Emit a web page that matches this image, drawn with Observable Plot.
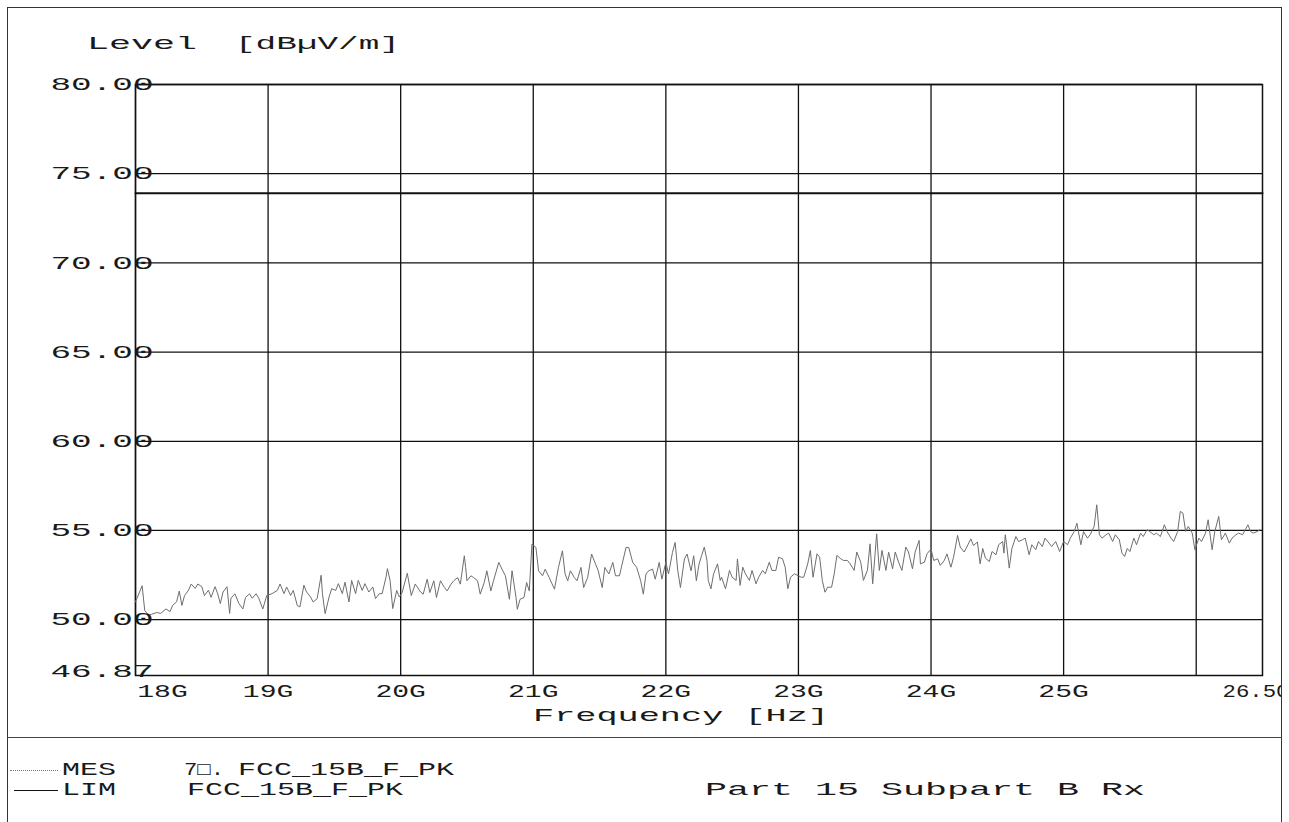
<!DOCTYPE html>
<html><head><meta charset="utf-8">
<script src="https://cdn.jsdelivr.net/npm/d3@7"></script>
<script src="https://cdn.jsdelivr.net/npm/@observablehq/plot@0.6"></script>
<style>
body{margin:0;background:#fff;width:1289px;height:822px;overflow:hidden;position:relative;font-family:"Liberation Mono",monospace;color:#111}
#frame{position:absolute;left:7px;top:7px;width:1275px;height:900px;border:1.5px solid #333;box-sizing:border-box}
#divider{position:absolute;left:7px;top:737px;width:1275px;border-top:1.5px solid #444}
#chart{position:absolute;left:0;top:0;width:1281px;height:740px;overflow:hidden}
.t{position:absolute;white-space:pre;transform-origin:0 50%;color:#1a1a1a}
.sw{position:absolute;height:0}
</style></head><body>
<div id="frame"></div>
<div id="chart"></div>
<div id="divider"></div>
<script>
// ---- data ----
const freqGHz = [
18.00,18.05,18.07,18.10,18.12,18.16,18.19,18.23,18.26,18.28,18.31,18.33,18.35,18.37,18.40,18.42,18.45,18.47,18.50,18.52,18.55,18.57,18.60,18.62,18.64,18.66,18.69,18.71,18.72,18.75,18.78,18.81,18.83,18.86,18.88,18.91,18.93,18.96,18.99,
19.03,19.07,19.09,19.12,19.14,19.17,19.19,19.22,19.24,19.27,19.29,19.32,19.34,19.37,19.40,19.41,19.43,19.46,19.48,19.51,19.53,19.56,19.58,19.61,19.63,19.66,19.68,19.71,19.73,19.76,19.79,19.81,19.84,19.86,19.89,19.90,19.92,19.94,19.97,19.99,
20.01,20.05,20.08,20.11,20.15,20.17,20.20,20.22,20.25,20.27,20.30,20.33,20.35,20.38,20.40,20.43,20.45,20.48,20.49,20.50,20.53,20.55,20.58,20.60,20.63,20.65,20.68,20.70,20.74,20.77,20.79,20.82,20.84,20.87,20.88,20.90,20.93,20.95,20.97,20.99,
21.02,21.04,21.07,21.09,21.12,21.16,21.19,21.22,21.24,21.26,21.28,21.31,21.33,21.36,21.38,21.41,21.44,21.47,21.49,21.52,21.54,21.57,21.60,21.62,21.65,21.67,21.70,21.72,21.75,21.78,21.81,21.83,21.85,21.87,21.90,21.92,21.95,21.97,
22.00,22.02,22.05,22.07,22.09,22.11,22.14,22.16,22.19,22.21,22.23,22.25,22.27,22.29,22.31,22.32,22.34,22.36,22.39,22.41,22.42,22.45,22.48,22.50,22.53,22.54,22.56,22.58,22.60,22.63,22.65,22.68,22.70,22.73,22.75,22.78,22.80,22.83,22.85,22.88,22.90,22.92,22.94,22.97,
23.02,23.04,23.07,23.09,23.11,23.14,23.16,23.18,23.20,23.22,23.25,23.27,23.29,23.32,23.34,23.37,23.39,23.42,23.44,23.47,23.49,23.52,23.54,23.56,23.59,23.61,23.63,23.66,23.68,23.71,23.73,23.76,23.78,23.81,23.83,23.86,23.88,23.91,23.92,23.95,23.97,
24.00,24.02,24.05,24.07,24.10,24.12,24.15,24.17,24.20,24.22,24.25,24.27,24.30,24.32,24.35,24.37,24.39,24.41,24.44,24.46,24.49,24.51,24.54,24.55,24.56,24.57,24.59,24.61,24.64,24.66,24.69,24.71,24.74,24.76,24.79,24.81,24.84,24.86,24.89,24.91,24.94,24.97,
25.00,25.03,25.05,25.08,25.10,25.13,25.15,25.18,25.20,25.23,25.25,25.27,25.29,25.32,25.34,25.37,25.39,25.42,25.44,25.46,25.48,25.50,25.53,25.55,25.58,25.60,25.63,25.65,25.68,25.70,25.73,25.76,25.78,25.81,25.83,25.86,25.88,25.90,25.92,25.94,25.97,25.99,
26.02,26.04,26.07,26.09,26.12,26.14,26.17,26.19,26.22,26.25,26.27,26.30,26.32,26.35,26.37,26.39,26.41,26.43,26.46,26.48
];
const levelDb = [
51.0,51.9,50.5,50.25,50.3,50.4,50.35,50.6,50.45,50.8,51.0,51.6,50.8,51.35,51.65,52.0,51.75,52.0,51.85,51.35,51.65,51.25,51.85,51.45,50.9,51.55,51.85,50.35,51.2,51.45,50.9,50.6,51.25,51.45,51.2,51.45,51.2,50.6,51.35,
51.46,51.64,52.0,51.46,51.83,51.36,51.64,50.8,50.71,51.93,51.55,51.27,50.99,51.18,52.49,51.46,50.34,51.27,51.74,51.64,52.02,51.46,52.1,50.99,52.2,51.46,52.2,51.64,52.02,51.55,51.83,51.18,51.46,51.46,52.4,52.86,52.2,50.62,51.64,51.27,
51.5,52.6,51.35,52.0,51.55,51.43,52.27,51.52,52.18,51.24,52.18,51.80,51.61,51.99,52.18,52.36,51.99,53.58,52.93,52.18,52.46,52.36,52.18,51.43,52.08,52.74,51.61,52.18,53.21,52.74,52.46,51.14,52.74,51.24,50.58,51.14,51.24,52.08,51.61,54.24,
54.05,52.74,52.46,52.83,52.36,51.71,52.93,53.86,52.56,52.18,52.74,52.36,52.18,52.93,51.80,52.36,53.68,53.11,52.74,51.80,52.93,52.56,53.21,52.46,52.46,53.11,54.05,54.05,53.21,52.93,52.18,51.43,52.56,52.74,52.83,52.27,53.21,52.27,
53.21,52.56,53.77,54.33,52.74,51.80,53.40,53.68,52.74,53.58,52.18,53.11,53.60,54.07,53.32,52.20,51.73,52.57,53.13,52.20,52.38,51.73,52.76,52.38,52.20,53.41,51.92,52.94,52.57,52.20,52.76,52.01,52.38,52.76,52.57,53.22,52.76,52.76,53.50,53.41,52.94,51.73,52.38,52.57,
52.38,52.38,53.13,53.88,52.38,53.69,53.50,52.20,51.54,51.82,51.82,52.57,53.60,53.41,53.32,53.32,53.13,52.76,53.79,53.22,52.20,52.76,54.25,52.01,54.81,52.76,53.88,52.76,53.79,52.85,53.79,53.13,52.76,54.07,53.79,52.85,53.79,54.44,53.13,53.22,53.69,
53.97,53.32,53.41,53.04,53.32,53.69,52.94,53.50,54.72,54.07,53.79,54.07,54.53,54.16,54.35,53.13,53.99,53.45,53.26,53.82,53.64,54.20,54.38,53.73,54.76,54.20,52.89,53.99,54.66,54.38,54.48,54.57,53.64,54.20,53.92,54.38,54.10,54.57,54.29,54.10,54.38,53.82,
54.38,54.20,54.57,54.94,55.41,54.20,54.94,54.57,54.76,55.22,56.44,54.76,54.57,54.76,54.85,54.38,54.76,54.48,53.73,53.54,53.99,53.82,54.57,54.20,54.85,54.66,55.04,54.94,54.76,54.85,54.66,55.32,54.94,54.57,54.38,54.94,56.07,55.97,54.94,55.22,54.85,53.92,
54.57,54.38,54.85,55.60,53.92,54.94,55.79,54.48,54.85,54.29,54.57,54.76,54.85,54.76,55.04,55.32,54.94,54.85,54.94,55.04
];
const limitFreq = [18, 26.5];
const limitLevel = [73.9, 73.9];
const xDomain = [18, 26.5];
const yDomain = [46.87, 80];
const xGridTicks = [18, 19, 20, 21, 22, 23, 24, 25, 26];
const yGridTicks = [50, 55, 60, 65, 70, 75, 80];
const xMidLabels = [19, 20, 21, 22, 23, 24, 25];
const xFirstLabel = [18];
const xLastLabel = [26.5];
const yBottomLabel = [46.87];

const measured = freqGHz.map((f, i) => ({f, v: levelDb[i]}));
const limit = limitFreq.map((f, i) => ({f, v: limitLevel[i]}));

const axisCommon = {tickSize: 0, label: null, fill: "#1a1a1a"};
const chart = Plot.plot({
  width: 1281, height: 740,
  marginLeft: 135, marginRight: 19, marginTop: 84, marginBottom: 65,
  x: {domain: xDomain},
  y: {domain: yDomain},
  style: {fontFamily: "Liberation Mono", fontSize: "18px", color: "#1a1a1a", background: "transparent"},
  marks: [
    Plot.gridX(xGridTicks, {stroke: "#111", strokeOpacity: 1, strokeWidth: 1.3}),
    Plot.gridY(yGridTicks, {stroke: "#111", strokeOpacity: 1, strokeWidth: 1.3}),
    Plot.frame({stroke: "#111", strokeWidth: 1.5}),
    Plot.line(limit, {x: "f", y: "v", stroke: "#111", strokeWidth: 2}),
    Plot.line(measured, {x: "f", y: "v", stroke: "#6e6e6e", strokeWidth: 1}),
    Plot.axisY(yGridTicks, {...axisCommon, tickPadding: 0, textAnchor: "start", dx: -85, tickFormat: d => d.toFixed(2)}),
    Plot.axisY(yBottomLabel, {...axisCommon, tickPadding: 0, textAnchor: "start", dx: -85, dy: -4, tickFormat: d => d.toFixed(2)}),
    Plot.axisX(xMidLabels, {...axisCommon, tickPadding: 9, tickFormat: d => d + "G"}),
    Plot.axisX(xFirstLabel, {...axisCommon, tickPadding: 9, dx: 27, tickFormat: d => d + "G"}),
    Plot.axisX(xLastLabel, {...axisCommon, tickPadding: 9, textAnchor: "start", dx: -40, tickFormat: d => d.toFixed(2)})
  ]
});
document.getElementById("chart").appendChild(chart);

// stretch tick labels to the wide plotter font
d3.select(chart).selectAll("g[aria-label='y-axis tick label'] text").each(function() {
  const n = this.textContent.length;
  this.setAttribute("textLength", n * 21.4 - 4);
  this.setAttribute("lengthAdjust", "spacingAndGlyphs");
});
d3.select(chart).selectAll("g[aria-label='x-axis tick label'] text").each(function() {
  const s = this.textContent;
  const adv = s.includes(".") ? 13.8 : 17.5;
  this.setAttribute("textLength", s.length * adv - 2);
  this.setAttribute("lengthAdjust", "spacingAndGlyphs");
});

function label(text, left, cy, width, size) {
  const s = document.createElement("div");
  s.className = "t";
  s.textContent = text;
  s.style.fontSize = size + "px";
  s.style.lineHeight = size + "px";
  s.style.left = left + "px";
  s.style.top = (cy - size / 2) + "px";
  document.body.appendChild(s);
  const w = s.getBoundingClientRect().width;
  s.style.transform = `scaleX(${width / w})`;
}
function swatch(left, right, cy, style) {
  const d = document.createElement("div");
  d.className = "sw";
  d.style.left = left + "px";
  d.style.width = (right - left) + "px";
  d.style.top = cy + "px";
  d.style.borderTop = style;
  document.body.appendChild(d);
}

label("Level", 87, 44, 110, 18);
label("[dB\u00B5V/m]", 235, 44, 165, 18);
label("Frequency [Hz]", 533, 716, 296, 18);

swatch(10, 58, 770, "1px dotted #777");
label("MES", 62, 770, 54, 18);
label("7\u25A1.", 184, 770, 40, 18);
label("FCC_15B_F_PK", 238, 770, 216, 18);
swatch(14, 58, 790, "1.5px solid #111");
label("LIM", 62, 790, 54, 18);
label("FCC_15B_F_PK", 187, 790, 216, 18);
label("Part 15 Subpart B Rx", 705, 790, 440, 18);
</script>
</body></html>
